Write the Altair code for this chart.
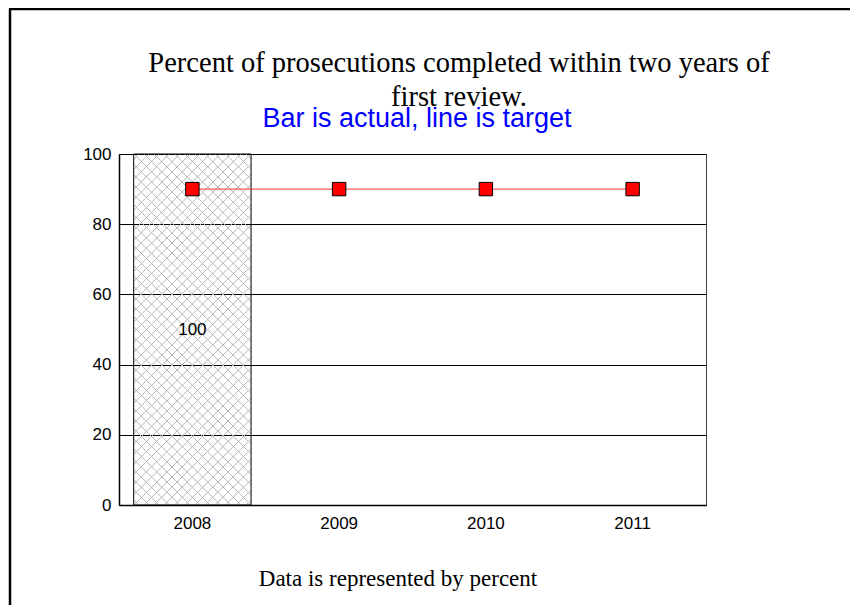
import altair as alt
import pandas as pd

# ---------------- data ----------------
years = ["2008", "2009", "2010", "2011"]
actual_years = ["2008"]
actual_values = [100]
target_values = [90, 90, 90, 90]
y_ticks = [0, 20, 40, 60, 80, 100]
title_lines = ["Percent of prosecutions completed within two years of", "first review."]
subtitle_text = "Bar is actual, line is target"
footer_text = "Data is represented by percent"

df_actual = pd.DataFrame({"year": actual_years, "actual": actual_values})
df_target = pd.DataFrame({"year": years, "target": target_values})
one = pd.DataFrame({"k": [0]})

SANS = "Liberation Sans"
SERIF = "Liberation Serif"


# ---------------- hatch fill (style only) ----------------
def hatch(x1, y1, x2, y2, n=46, rgb=(185, 185, 185)):
    clear = "rgba(%d,%d,%d,0)" % rgb
    gray = "rgba(%d,%d,%d,1)" % rgb
    period = 1.0 / n
    hw = period * 0.075
    stops = [alt.GradientStop(offset=0, color=clear)]
    for i in range(n):
        c = i * period + period / 2
        stops += [
            alt.GradientStop(offset=round(c - hw, 5), color=clear),
            alt.GradientStop(offset=round(c - hw / 3, 5), color=gray),
            alt.GradientStop(offset=round(c + hw / 3, 5), color=gray),
            alt.GradientStop(offset=round(c + hw, 5), color=clear),
        ]
    stops.append(alt.GradientStop(offset=1, color=clear))
    return alt.Gradient(gradient="linear", stops=stops, x1=x1, y1=y1, x2=x2, y2=y2)


x_scale = alt.Scale(domain=years, paddingInner=0.2, paddingOuter=0.1)
y_scale = alt.Scale(domain=[0, 100], nice=False)

x_enc = alt.X(
    "year:N", scale=x_scale, sort=years,
    axis=alt.Axis(title=None, labelAngle=0, ticks=False, grid=False, labelPadding=10,
                  domainColor="black", domainWidth=1.5),
)
y_enc_axis = alt.Axis(title=None, values=y_ticks, ticks=False, grid=True, labelPadding=8,
                      gridColor="black", gridWidth=1, domainColor="black", domainWidth=1.5)

# frame lines of the slide
frame_left = alt.Chart(one).mark_rule(color="black", strokeWidth=2.5).encode(
    x=alt.value(-109), y=alt.value(-145), y2=alt.value(459)
)
frame_top = alt.Chart(one).mark_rule(color="black", strokeWidth=2.5).encode(
    x=alt.value(-110), x2=alt.value(731), y=alt.value(-145)
)

bar_a = alt.Chart(df_actual).mark_bar(fill=hatch(0, 0, 0.4, 1.2)).encode(
    x=x_enc, y=alt.Y("actual:Q", scale=y_scale, axis=y_enc_axis)
)
bar_b = alt.Chart(df_actual).mark_bar(
    fill=hatch(1, 0, 0.6, 1.2), stroke="black", strokeWidth=1
).encode(x=x_enc, y=alt.Y("actual:Q", scale=y_scale))

bar_label = alt.Chart(df_actual).transform_calculate(mid="datum.actual / 2").mark_text(
    font=SANS, fontSize=17, color="black", align="center", baseline="middle"
).encode(x=x_enc, y=alt.Y("mid:Q", scale=y_scale), text=alt.Text("actual:Q"))

line = alt.Chart(df_target).mark_line(color="#ff3030", strokeWidth=1).encode(
    x=x_enc, y=alt.Y("target:Q", scale=y_scale)
)
points = alt.Chart(df_target).mark_point(
    shape="square", filled=True, fill="#ff0000", stroke="black", strokeWidth=1,
    size=180, opacity=1, fillOpacity=1
).encode(x=x_enc, y=alt.Y("target:Q", scale=y_scale))

title = alt.Chart(pd.DataFrame({"text": ["\n".join(title_lines)]})).mark_text(
    font=SERIF, fontSize=28.5, lineBreak="\n", lineHeight=34, align="center",
    baseline="alphabetic", color="black"
).encode(text="text:N", x=alt.value(340), y=alt.value(-82))

subtitle = alt.Chart(pd.DataFrame({"text": [subtitle_text]})).mark_text(
    font=SANS, fontSize=27, align="center", baseline="alphabetic", color="#0000ff"
).encode(text="text:N", x=alt.value(298), y=alt.value(-27))

footer = alt.Chart(pd.DataFrame({"text": [footer_text]})).mark_text(
    font=SERIF, fontSize=23, align="center", baseline="alphabetic", color="black"
).encode(text="text:N", x=alt.value(279), y=alt.value(432))

chart = alt.layer(
    frame_left, frame_top, bar_a, bar_b, bar_label, line, points, title, subtitle, footer
).properties(
    width=587, height=351,
    autosize=alt.AutoSizeParams(type="none"),
    padding={"left": 111, "top": 146, "right": 144, "bottom": 100},
    background="white",
).configure_view(
    stroke="#404040", strokeWidth=1
).configure_axis(
    labelFont=SANS, labelFontSize=17, labelColor="black"
)

chart.save("out.html", embed_options={"renderer": "svg", "actions": False})
